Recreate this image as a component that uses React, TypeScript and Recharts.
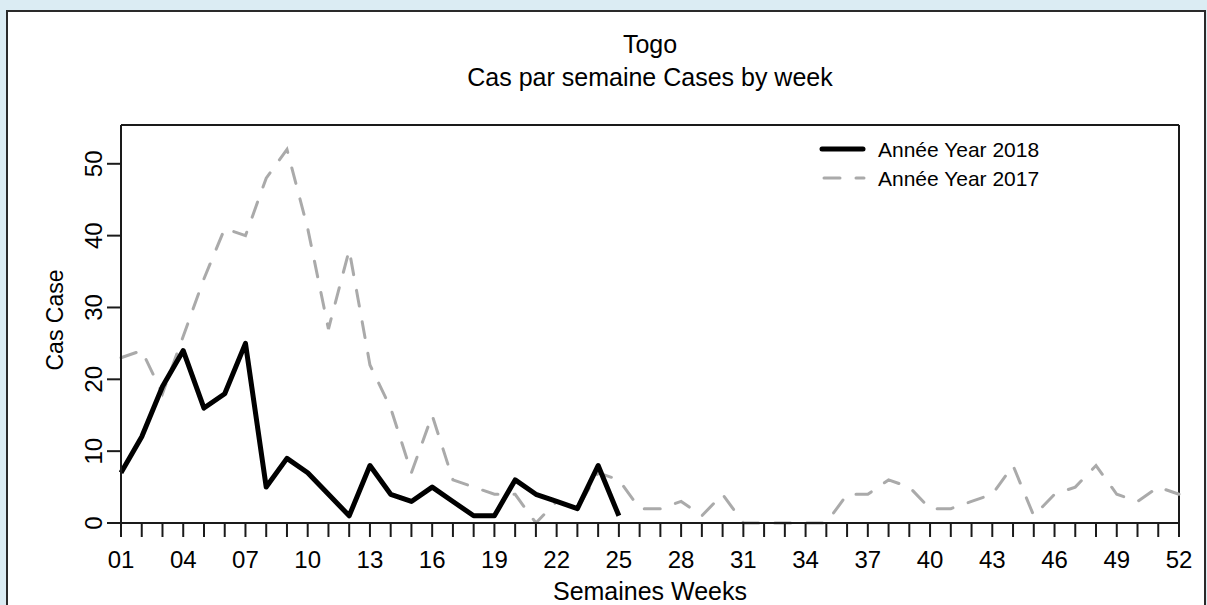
import { LineChart, Line, XAxis, YAxis, Legend, ReferenceLine } from 'recharts';

const WEEKS = [
  1, 2, 3, 4, 5, 6, 7, 8, 9, 10, 11, 12, 13, 14, 15, 16, 17, 18, 19, 20, 21, 22, 23, 24, 25, 26,
  27, 28, 29, 30, 31, 32, 33, 34, 35, 36, 37, 38, 39, 40, 41, 42, 43, 44, 45, 46, 47, 48, 49, 50, 51, 52,
];
const WEEK_LABELS = ['01', '04', '07', '10', '13', '16', '19', '22', '25', '28', '31', '34', '37', '40', '43', '46', '49', '52'];
const CASE_TICKS = [0, 10, 20, 30, 40, 50];

const CASES_2018 = [7, 12, 19, 24, 16, 18, 25, 5, 9, 7, 4, 1, 8, 4, 3, 5, 3, 1, 1, 6, 4, 3, 2, 8, 1];
const CASES_2017 = [
  23, 24, 18, 26, 34, 41, 40, 48, 52, 41, 27, 38, 22, 16, 7, 15, 6, 5, 4, 4, 0, 3, 2, 7, 6, 2,
  2, 3, 1, 4, 0, 0, 0, 0, 0, 4, 4, 6, 5, 2, 2, 3, 4, 8, 1, 4, 5, 8, 4, 3, 5, 4,
];

const FONT = '"Liberation Sans", Arial, sans-serif';
const AXIS = '#1a1a1a';
const GREY = '#aaaaaa';

const data = WEEKS.map((week, i) => ({
  week,
  y2018: CASES_2018[i],
  y2017: CASES_2017[i],
}));

const XTick = ({ x, y, payload }: any) => {
  const label = WEEK_LABELS.find((l) => Number(l) === payload.value);
  if (!label) return null;
  return (
    <text x={x} y={y} dy="0.71em" textAnchor="middle" fontSize={24} fontFamily={FONT} fill="#000">
      {label}
    </text>
  );
};

const YTick = ({ x, y, payload }: any) => (
  <text x={x} y={y} transform={`rotate(-90 ${x} ${y})`} textAnchor="middle" fontSize={24} fontFamily={FONT} fill="#000">
    {payload.value}
  </text>
);

const LegendBox = () => (
  <svg width={260} height={60} style={{ display: 'block' }}>
    <line x1={7} y1={16} x2={48} y2={16} stroke="#000" strokeWidth={5} strokeLinecap="round" />
    <text x={63} y={23.5} fontSize={21} fontFamily={FONT} fill="#000">Année Year 2018</text>
    <line x1={9} y1={45} x2={49} y2={45} stroke={GREY} strokeWidth={3} strokeDasharray="16 16" strokeLinecap="round" />
    <text x={63} y={52.5} fontSize={21} fontFamily={FONT} fill="#000">Année Year 2017</text>
  </svg>
);

export default function App() {
  return (
    <div style={{ position: 'absolute', left: 0, top: 0, width: 1207, height: 605, background: '#dbecf3', overflow: 'hidden' }}>
      <div
        style={{
          position: 'absolute', left: 6, top: 10, width: 1200, height: 610,
          boxSizing: 'border-box', border: '2px solid #2a2a2a', background: '#fff',
        }}
      />
      <div style={{ position: 'absolute', left: 121, width: 1058, top: 28, textAlign: 'center', fontFamily: FONT, fontSize: 25, lineHeight: '33px', color: '#000' }}>
        <div>Togo</div>
        <div>Cas par semaine Cases by week</div>
      </div>
      <div style={{ position: 'absolute', left: 0, top: 0 }}>
        <LineChart width={1207} height={605} data={data} margin={{ top: 125, right: 28, left: 61, bottom: 42 }}>
          <XAxis
            dataKey="week"
            type="number"
            domain={[1, 52]}
            ticks={WEEKS}
            interval={0}
            height={40}
            tickSize={14}
            tickMargin={14}
            tick={<XTick />}
            stroke={AXIS}
            strokeWidth={2}
            label={{
              content: ({ viewBox }: any) => (
                <text x={viewBox.x + viewBox.width / 2} y={viewBox.y + 77} textAnchor="middle" fontSize={25} fontFamily={FONT} fill="#000">
                  Semaines Weeks
                </text>
              ),
            }}
          />
          <YAxis
            type="number"
            domain={[0, 55.4]}
            ticks={CASE_TICKS}
            interval={0}
            width={60}
            tickSize={14}
            tickMargin={5}
            tick={<YTick />}
            stroke={AXIS}
            strokeWidth={2}
            label={{
              content: ({ viewBox }: any) => {
                const cx = viewBox.x + 2;
                const cy = viewBox.y + viewBox.height / 2 - 4;
                return (
                  <text x={cx} y={cy} transform={`rotate(-90 ${cx} ${cy})`} textAnchor="middle" fontSize={23} fontFamily={FONT} fill="#000">
                    Cas Case
                  </text>
                );
              },
            }}
          />
          <ReferenceLine y={55.4} stroke={AXIS} strokeWidth={2} />
          <ReferenceLine x={52} stroke={AXIS} strokeWidth={2} />
          <Legend
            layout="horizontal"
            verticalAlign="middle"
            align="center"
            wrapperStyle={{ left: 815, top: 133, width: 260 }}
            content={() => <LegendBox />}
          />
          <Line
            type="linear"
            dataKey="y2017"
            name="Année Year 2017"
            stroke={GREY}
            strokeWidth={3}
            strokeDasharray="16 16"
            strokeLinecap="round"
            dot={false}
            activeDot={false}
            isAnimationActive={false}
          />
          <Line
            type="linear"
            dataKey="y2018"
            name="Année Year 2018"
            stroke="#000"
            strokeWidth={5}
            strokeLinejoin="round"
            dot={false}
            activeDot={false}
            isAnimationActive={false}
          />
        </LineChart>
      </div>
    </div>
  );
}
